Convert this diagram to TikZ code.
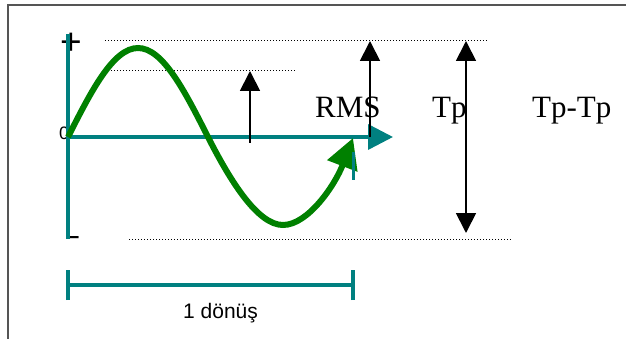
\documentclass[tikz,border=0pt]{standalone}
\usepackage{fontspec}
\setmainfont{Liberation Serif}
\setsansfont{Liberation Sans}
\usetikzlibrary{arrows.meta}
\definecolor{myteal}{RGB}{0,128,128}
\definecolor{mygreen}{RGB}{0,128,0}
\definecolor{framegray}{RGB}{85,85,85}
\begin{document}
\begin{tikzpicture}[x=1pt,y=-1pt,
  axisline/.style={myteal, line width=3.5pt},
  wave/.style={mygreen, line width=6pt, -{Triangle[length=30pt,width=31pt]}},
  guide/.style={black, line width=1pt, dash pattern=on 1pt off 2pt},
  meas/.style={black, line width=1.8pt},
  mtip/.tip={Triangle[length=20pt,width=20pt]},
  lbl/.style={font=\fontsize{31}{31}\selectfont, anchor=base west, inner sep=0pt},
  sfl/.style={anchor=base west, inner sep=0pt}]
\useasboundingbox (0,0) rectangle (626,339);
% frame
\draw[framegray, line width=1.3pt] (8,339) -- (8,5) -- (626,5);
% guide lines
\coordinate (g1a) at (105,41);  \coordinate (g1b) at (487,41);
\coordinate (g2a) at (105,71);  \coordinate (g2b) at (295,71);
\coordinate (g3a) at (129,239); \coordinate (g3b) at (511,239);
\draw[guide] (g1a) -- (g1b);
\draw[guide] (g2a) -- (g2b);
\draw[guide] (g3a) -- (g3b);
% axis labels
\node[sfl, font=\sffamily\fontsize{18}{18}\selectfont] (zero) at (59,140) {0};
\node[sfl, font=\sffamily\fontsize{37}{37}\selectfont] (plus) at (60,55) {+};
\node[sfl, font=\sffamily\bfseries\fontsize{22}{22}\selectfont] (minus) at (67,243) {–};
% axes
\coordinate (O) at (68,137);
\coordinate (ytop) at (68,34);
\coordinate (ybot) at (68,239);
\coordinate (xend) at (393,137);
\draw[axisline] (ytop) -- (ybot);
\draw[axisline, -{Triangle[length=25pt,width=25pt]}] (O) -- (xend);
% wave
\coordinate (peak) at (138,48);
\coordinate (mid) at (208,137);
\coordinate (trough) at (283,225);
\coordinate (wend) at (353,138);
\draw[wave] (O) .. controls (90.8,92) and (113,48) .. (peak)
  .. controls (163,48) and (185.2,92) .. (mid)
  .. controls (230.8,182) and (258,225) .. (trough)
  .. controls (308,225) and (335,185) .. (wend);
% small tick
\coordinate (t1) at (353,152); \coordinate (t2) at (353,180);
\draw[axisline, line width=3pt] (t1) -- (t2);
% period bracket
\coordinate (b1) at (68,285); \coordinate (b2) at (353,285);
\draw[axisline] (b1) -- (b2);
\draw[axisline] ([yshift=-15pt]b1) -- ([yshift=15pt]b1);
\draw[axisline] ([yshift=-15pt]b2) -- ([yshift=15pt]b2);
\node[sfl, font=\sffamily\fontsize{21}{21}\selectfont] (turn) at (183,318) {1 dönüş};
% labels
\node[lbl] (rms) at (315,118) {RMS};
\node[lbl] (tp) at (432,118) {Tp};
\node[lbl] (tptp) at (532,118) {Tp-Tp};
% measuring arrows
\coordinate (r1) at (250,143); \coordinate (r2) at (250,71);
\coordinate (p1) at (370,137); \coordinate (p2) at (370,41);
\coordinate (d1) at (466,233); \coordinate (d2) at (466,41);
\draw[meas, -{mtip}] (r1) -- (r2);
\draw[meas, -{mtip}] (p1) -- (p2);
\draw[meas, {mtip}-{mtip}] (d1) -- (d2);
\end{tikzpicture}
\end{document}
